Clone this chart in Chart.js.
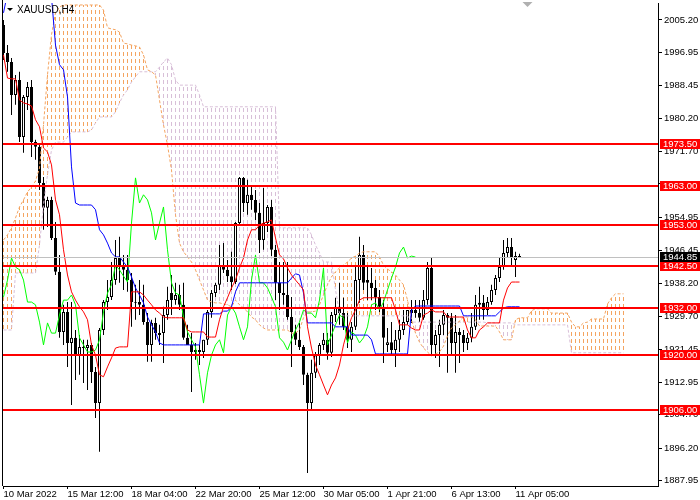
<!DOCTYPE html>
<html>
<head>
<meta charset="utf-8">
<script src="https://cdn.jsdelivr.net/npm/chart.js@4.4.1/dist/chart.umd.min.js"></script>
<style>
  html, body { margin: 0; padding: 0; background: #fff; overflow: hidden; }
  canvas { display: block; }
</style>
</head>
<body>
<canvas id="xauChart" width="700" height="500"></canvas>
<script>
// XAUUSD H4 candles, one value per bar (bar 0 = 10 Mar 2022)
const opens = [
  2003.9, 1996.8, 1994.5, 1986.1, 1989.9, 1975.4, 1985.6, 1988.1, 1974.1, 1972.9,
  1963.7, 1957.4, 1959.4, 1949.7, 1941.1, 1925.8, 1930.9, 1923.0, 1924.3, 1919.9,
  1922.0, 1921.7, 1922.5, 1915.6, 1907.7, 1926.3, 1933.4, 1934.7, 1939.0, 1944.6,
  1942.3, 1941.6, 1939.0, 1933.2, 1933.4, 1932.7, 1928.3, 1922.5, 1928.1, 1925.0,
  1925.5, 1930.1, 1935.7, 1933.9, 1935.2, 1932.7, 1924.3, 1922.5, 1921.2, 1920.7,
  1920.7, 1923.8, 1930.9, 1935.7, 1937.8, 1942.8, 1941.6, 1940.0, 1938.5, 1953.5,
  1965.0, 1958.6, 1960.7, 1959.4, 1956.1, 1949.2, 1953.5, 1957.6, 1946.7, 1938.3,
  1935.7, 1935.2, 1929.6, 1925.8, 1923.8, 1922.0, 1914.9, 1907.7, 1915.4, 1919.9,
  1922.5, 1923.8, 1920.5, 1930.1, 1932.2, 1930.6, 1927.1, 1923.8, 1927.1, 1939.0,
  1945.4, 1939.0, 1938.3, 1937.0, 1934.7, 1932.2, 1922.5, 1923.2, 1921.2, 1923.8,
  1926.3, 1928.3, 1931.4, 1931.4, 1930.6, 1929.4, 1933.9, 1942.1, 1922.5, 1925.0,
  1927.6, 1930.1, 1929.4, 1923.0, 1925.8, 1925.0, 1923.0, 1924.3, 1927.1, 1932.7,
  1933.2, 1931.4, 1933.4, 1936.5, 1939.5, 1942.3, 1945.9, 1947.4, 1944.1, 1945.1
];
const highs = [
  2005.2, 1998.8, 1995.5, 1991.2, 1992.0, 1986.1, 1989.4, 1989.9, 1974.7, 1973.9,
  1965.2, 1960.2, 1960.2, 1953.8, 1945.4, 1932.7, 1933.4, 1933.4, 1926.3, 1925.0,
  1923.8, 1923.8, 1923.0, 1916.9, 1926.8, 1933.9, 1939.0, 1943.6, 1949.2, 1950.0,
  1945.4, 1945.4, 1940.8, 1937.8, 1939.0, 1937.8, 1930.6, 1928.9, 1929.4, 1927.6,
  1932.2, 1937.3, 1940.3, 1938.3, 1937.8, 1938.3, 1927.6, 1925.5, 1923.0, 1922.5,
  1923.8, 1931.4, 1936.5, 1938.3, 1947.9, 1948.4, 1944.1, 1946.2, 1953.8, 1965.2,
  1965.2, 1964.5, 1962.7, 1961.9, 1958.6, 1962.4, 1958.1, 1959.4, 1947.9, 1943.6,
  1943.6, 1943.6, 1934.7, 1927.6, 1928.1, 1922.5, 1915.4, 1918.7, 1920.7, 1923.0,
  1925.5, 1925.5, 1930.9, 1934.5, 1938.3, 1934.5, 1930.6, 1928.3, 1942.8, 1950.0,
  1947.9, 1942.8, 1942.1, 1939.0, 1936.5, 1933.9, 1926.8, 1928.3, 1926.3, 1928.9,
  1931.4, 1931.4, 1933.9, 1933.9, 1933.9, 1936.5, 1943.6, 1944.6, 1926.3, 1928.9,
  1931.4, 1930.6, 1930.6, 1930.1, 1926.8, 1926.3, 1925.5, 1930.6, 1935.2, 1937.3,
  1935.2, 1934.7, 1937.8, 1940.3, 1944.6, 1949.2, 1949.7, 1949.7, 1946.2, 1945.7
];
const lows = [
  1995.0, 1992.0, 1981.0, 1983.6, 1974.1, 1971.4, 1982.3, 1970.3, 1969.6, 1961.9,
  1951.8, 1952.5, 1949.2, 1940.3, 1924.3, 1922.5, 1916.9, 1907.2, 1913.6, 1914.9,
  1912.8, 1911.0, 1912.8, 1903.9, 1895.3, 1925.0, 1931.4, 1933.9, 1937.8, 1938.3,
  1936.5, 1936.0, 1927.1, 1928.9, 1930.1, 1927.6, 1918.2, 1918.2, 1923.8, 1922.5,
  1917.9, 1928.9, 1930.1, 1932.7, 1931.4, 1923.8, 1922.5, 1910.5, 1918.7, 1917.4,
  1919.2, 1922.5, 1929.4, 1934.7, 1936.5, 1940.8, 1938.5, 1936.5, 1938.0, 1952.8,
  1956.3, 1955.6, 1956.9, 1954.3, 1945.9, 1946.7, 1951.2, 1945.1, 1933.9, 1931.4,
  1932.7, 1928.9, 1916.9, 1922.5, 1921.2, 1912.3, 1889.9, 1906.0, 1914.1, 1917.4,
  1921.2, 1918.7, 1919.4, 1928.3, 1927.6, 1926.3, 1921.7, 1920.7, 1926.3, 1933.2,
  1936.5, 1933.9, 1933.9, 1931.4, 1930.9, 1917.9, 1920.7, 1919.9, 1916.9, 1920.7,
  1925.0, 1927.6, 1928.1, 1929.4, 1928.3, 1928.9, 1932.7, 1919.9, 1919.2, 1916.9,
  1925.0, 1915.4, 1919.9, 1915.4, 1917.9, 1920.7, 1921.2, 1923.2, 1926.3, 1928.9,
  1928.9, 1930.1, 1932.7, 1935.2, 1938.5, 1941.6, 1944.6, 1942.8, 1939.8, 1944.6
];
const closes = [
  1996.8, 1994.5, 1986.1, 1989.9, 1975.4, 1985.6, 1988.1, 1974.1, 1972.9, 1963.7,
  1957.4, 1959.4, 1949.7, 1941.1, 1925.8, 1930.9, 1923.0, 1924.3, 1919.9, 1922.0,
  1921.7, 1922.5, 1915.6, 1907.7, 1926.3, 1933.4, 1934.7, 1939.0, 1944.6, 1942.3,
  1941.6, 1939.0, 1933.4, 1933.4, 1932.7, 1928.3, 1922.5, 1928.1, 1925.5, 1925.5,
  1930.1, 1933.9, 1933.9, 1935.2, 1932.7, 1924.3, 1922.5, 1920.7, 1920.7, 1921.2,
  1923.8, 1930.9, 1935.7, 1937.8, 1942.8, 1941.6, 1940.0, 1938.5, 1953.5, 1965.0,
  1958.6, 1960.7, 1959.4, 1956.1, 1949.2, 1953.5, 1957.6, 1946.7, 1938.3, 1935.7,
  1935.2, 1929.6, 1925.8, 1923.8, 1922.0, 1914.9, 1907.7, 1915.4, 1919.9, 1922.5,
  1923.8, 1920.5, 1930.1, 1932.2, 1930.6, 1927.1, 1923.8, 1927.1, 1939.0, 1945.4,
  1938.3, 1938.3, 1937.0, 1934.7, 1932.2, 1924.3, 1923.2, 1921.2, 1923.8, 1926.3,
  1928.3, 1931.4, 1930.6, 1930.6, 1929.4, 1933.9, 1942.1, 1922.5, 1925.0, 1927.6,
  1930.1, 1929.4, 1923.0, 1925.8, 1925.0, 1923.0, 1924.3, 1927.1, 1932.7, 1933.2,
  1931.4, 1933.4, 1936.5, 1939.5, 1942.3, 1945.9, 1947.4, 1944.6, 1945.1, 1944.85
];

// Ichimoku lines
const tenkan = [
  1996.3, 1990.4, 1990.2, 1990.2, 1984.8, 1984.1, 1983.8, 1983.3, 1979.8, 1978.0,
  1972.6, 1971.6, 1968.3, 1959.4, 1955.6, 1946.7, 1940.3, 1936.0, 1933.9, 1932.2,
  1930.9, 1928.9, 1922.5, 1919.9, 1914.9, 1914.4, 1916.9, 1919.2, 1921.7, 1922.0,
  1922.0, 1922.0, 1936.0, 1936.0, 1936.0, 1935.2, 1933.9, 1932.7, 1931.4, 1930.6,
  1929.6, 1929.4, 1929.4, 1929.4, 1929.4, 1929.4, 1926.3, 1925.8, 1925.8, 1925.8,
  1925.8, 1924.5, 1924.5, 1924.5, 1928.9, 1932.2, 1934.5, 1937.0, 1939.0, 1942.1,
  1944.6, 1949.2, 1951.8, 1951.8, 1953.0, 1953.5, 1953.8, 1954.3, 1949.7, 1945.4,
  1944.4, 1942.1, 1940.3, 1939.0, 1937.8, 1936.5, 1927.1, 1921.7, 1917.4, 1914.9,
  1912.3, 1909.8, 1912.3, 1914.1, 1917.4, 1922.5, 1926.3, 1929.4, 1931.4, 1933.9,
  1934.5, 1934.5, 1934.5, 1934.5, 1934.5, 1934.5, 1934.5, 1934.5, 1931.4, 1927.6,
  1927.6, 1927.6, 1926.8, 1926.3, 1926.3, 1930.1, 1930.6, 1931.4, 1930.9, 1930.9,
  1930.9, 1929.6, 1929.6, 1929.6, 1929.6, 1929.6, 1926.3, 1924.3, 1924.3, 1926.3,
  1927.1, 1928.1, 1928.1, 1928.1, 1928.1, 1933.9, 1937.0, 1938.5, 1938.5, 1938.5
];
const kijun = [
  2007.0, 2012.0, 2012.0, 2012.0, 2012.0, 2012.0, 2012.0, 2012.0, 2012.0, 2012.0,
  2012.0, 2012.0, 2011.0, 1998.8, 1993.8, 1992.5, 1985.6, 1967.8, 1958.6, 1958.1,
  1958.1, 1958.1, 1958.1, 1956.9, 1951.8, 1950.5, 1948.4, 1945.9, 1944.9, 1944.9,
  1943.6, 1942.3, 1939.8, 1937.0, 1935.2, 1933.2, 1929.6, 1927.6, 1925.8, 1923.0,
  1922.5, 1922.5, 1922.5, 1922.5, 1922.5, 1922.5, 1922.5, 1922.5, 1922.5, 1922.5,
  1930.4, 1930.4, 1930.4, 1930.4, 1930.4, 1931.1, 1931.1, 1932.2, 1936.0, 1938.3,
  1938.3, 1938.3, 1938.3, 1938.3, 1938.3, 1938.3, 1938.3, 1938.3, 1938.3, 1938.3,
  1938.3, 1938.3, 1939.5, 1940.6, 1940.3, 1935.7, 1928.1, 1928.1, 1928.1, 1928.1,
  1928.1, 1928.1, 1928.1, 1927.1, 1927.1, 1927.1, 1927.1, 1925.0, 1925.0, 1925.0,
  1925.0, 1925.0, 1923.8, 1920.2, 1920.2, 1920.2, 1920.2, 1920.2, 1920.2, 1920.2,
  1920.2, 1920.2, 1931.4, 1932.4, 1932.4, 1932.4, 1932.4, 1932.4, 1932.4, 1932.4,
  1932.4, 1932.4, 1932.4, 1932.4, 1932.4, 1929.9, 1929.9, 1929.9, 1929.9, 1929.9,
  1929.9, 1929.9, 1929.9, 1929.9, 1930.9, 1931.9, 1932.2, 1932.2, 1932.2, 1932.2
];
// Senkou spans run 26 bars past the last candle
const spanA = [
  1949.2, 1950.5, 1952.3, 1954.8, 1957.6, 1959.4, 1961.4, 1962.7, 1964.2, 1967.5,
  1978.5, 1991.2, 2001.4, 2007.0, 2008.5, 2009.0, 2009.0, 2009.0, 2009.0, 2009.0,
  2009.0, 2009.0, 2009.0, 2009.0, 2009.0, 2007.7, 2003.2, 2002.9, 2002.7, 2002.1,
  1999.3, 1999.1, 1998.8, 1998.6, 1998.3, 1996.3, 1992.5, 1992.0, 1991.2, 1984.8,
  1978.5, 1973.4, 1967.0, 1955.6, 1948.4, 1946.2, 1944.9, 1943.6, 1941.6, 1939.0,
  1936.5, 1933.9, 1933.4, 1933.2, 1933.2, 1932.9, 1932.7, 1932.2, 1933.9, 1932.7,
  1931.9, 1930.9, 1929.6, 1928.9, 1927.6, 1926.8, 1926.3, 1926.3, 1926.3, 1926.3,
  1926.3, 1926.3, 1925.5, 1925.5, 1926.3, 1929.4, 1930.9, 1930.9, 1931.1, 1932.7,
  1935.2, 1937.8, 1939.8, 1941.1, 1942.1, 1942.8, 1943.6, 1944.6, 1945.1, 1945.9,
  1946.2, 1946.2, 1946.2, 1946.2, 1944.9, 1942.8, 1941.8, 1941.1, 1940.3, 1939.0,
  1937.8, 1933.9, 1928.9, 1925.5, 1923.2, 1921.7, 1920.7, 1919.7, 1920.2, 1920.7,
  1922.2, 1924.8, 1926.8, 1927.6, 1928.6, 1929.6, 1929.6, 1929.6, 1928.9, 1927.3,
  1927.3, 1927.3, 1927.3, 1927.3, 1925.8, 1923.8, 1923.8, 1923.8, 1928.9, 1929.4,
  1929.4, 1929.4, 1931.2, 1931.7, 1931.7, 1931.7, 1931.7, 1930.6, 1930.6, 1930.6,
  1930.6, 1930.6, 1928.3, 1927.1, 1927.1, 1928.1, 1928.3, 1929.1, 1929.1, 1929.1,
  1929.1, 1932.9, 1934.5, 1935.5, 1935.5, 1935.5
];
const spanB = [
  1926.3, 1926.3, 1926.3, 1940.8, 1940.8, 1940.8, 1940.8, 1940.8, 1940.8, 1947.9,
  1958.1, 1965.8, 1972.1, 1974.1, 1974.1, 1974.1, 1975.4, 1976.7, 1976.7, 1976.7,
  1976.7, 1976.7, 1977.2, 1979.0, 1980.5, 1980.5, 1980.5, 1980.5, 1981.8, 1984.1,
  1986.1, 1987.4, 1989.4, 1990.7, 1992.0, 1992.0, 1992.0, 1992.0, 1992.0, 1993.2,
  1994.5, 1995.5, 1993.8, 1989.9, 1988.6, 1988.6, 1988.6, 1988.6, 1988.6, 1986.1,
  1983.1, 1983.1, 1983.1, 1983.1, 1983.1, 1983.1, 1983.1, 1983.1, 1983.1, 1983.1,
  1983.1, 1983.1, 1983.1, 1983.1, 1983.1, 1983.1, 1983.1, 1983.1, 1983.1, 1952.3,
  1952.3, 1952.3, 1952.3, 1952.3, 1952.3, 1952.3, 1952.3, 1950.5, 1947.9, 1945.9,
  1943.6, 1943.6, 1943.6, 1936.5, 1930.6, 1929.9, 1929.9, 1929.9, 1929.9, 1929.9,
  1929.9, 1929.9, 1929.9, 1929.9, 1929.9, 1929.9, 1929.9, 1929.9, 1929.9, 1929.9,
  1929.9, 1929.9, 1928.3, 1928.3, 1928.3, 1928.3, 1928.3, 1928.3, 1928.3, 1928.3,
  1928.3, 1928.3, 1928.3, 1928.3, 1928.3, 1928.3, 1928.3, 1928.3, 1928.3, 1928.3,
  1928.3, 1928.1, 1928.1, 1928.1, 1928.1, 1928.1, 1928.1, 1928.1, 1927.6, 1927.6,
  1927.6, 1927.6, 1927.6, 1927.6, 1927.6, 1927.6, 1927.6, 1927.6, 1927.6, 1927.6,
  1927.6, 1927.6, 1920.5, 1920.5, 1920.5, 1920.5, 1920.5, 1920.5, 1920.5, 1920.5,
  1920.5, 1920.5, 1920.5, 1920.5, 1920.5, 1920.5
];

// Horizontal levels and last price
const levels = [1973.5, 1963.0, 1953.0, 1942.5, 1932.0, 1920.0, 1906.0];
const lastPrice = 1944.85;

// Axis ticks
const priceTicks = [2005.20, 1996.95, 1988.45, 1980.20, 1971.70, 1963.45, 1954.95,
  1946.45, 1938.20, 1929.70, 1921.45, 1912.95, 1904.70, 1896.20, 1887.95];
const dateTicks = [0, 16, 32, 48, 64, 80, 96, 112, 128];
const dateLabels = ['10 Mar 2022', '15 Mar 12:00', '18 Mar 04:00', '22 Mar 20:00',
  '25 Mar 12:00', '30 Mar 05:00', '1 Apr 21:00', '6 Apr 13:00', '11 Apr 05:00'];

const chikouShift = 26;
const FONT = "'Liberation Sans', Arial, sans-serif";

Chart.defaults.font.family = FONT;
Chart.defaults.font.size = 9.5;
Chart.defaults.color = '#000';

// Build datasets from the arrays
const wickData = closes.map((c, i) => ({ x: i, y: [lows[i], highs[i]] }));
const bodyData = closes.map((c, i) => ({ x: i, y: [opens[i], c] }));
const bodyFill = closes.map((c, i) => (c >= opens[i] ? '#ffffff' : '#000000'));
const toPoints = arr => arr.map((v, i) => ({ x: i, y: v }));
const chikouData = closes.slice(chikouShift).map((v, i) => ({ x: i, y: v }));

// Kumo hatch, level lines and axis labels
const mtOverlay = {
  id: 'mtOverlay',
  beforeDatasetsDraw(chart) {
    const { ctx, chartArea: a, scales: { x, y } } = chart;
    ctx.save();
    ctx.beginPath();
    ctx.rect(a.left, a.top, a.right - a.left, a.bottom - a.top);
    ctx.clip();
    ctx.lineWidth = 1;
    ctx.setLineDash([4, 3]);
    spanA.forEach((va, i) => {
      const vb = spanB[i];
      const px = Math.floor(x.getPixelForValue(i)) + 0.5;
      const y0 = Math.round(y.getPixelForValue(Math.max(va, vb)));
      const y1 = Math.round(y.getPixelForValue(Math.min(va, vb)));
      ctx.strokeStyle = va >= vb ? '#F4A460' : '#D8BFD8';
      // keep the dashes of all columns on the same rows
      ctx.lineDashOffset = (y0 - a.top) % 7;
      ctx.beginPath();
      ctx.moveTo(px, y0);
      ctx.lineTo(px, y1);
      ctx.stroke();
    });
    ctx.restore();
  },
  afterDatasetsDraw(chart) {
    const { ctx, chartArea: a, scales: { y } } = chart;
    ctx.save();
    // last price line
    ctx.strokeStyle = '#C0C0C0';
    ctx.lineWidth = 1;
    const py = Math.round(y.getPixelForValue(lastPrice)) + 0.5;
    ctx.beginPath(); ctx.moveTo(a.left, py); ctx.lineTo(a.right, py); ctx.stroke();
    // support / resistance levels
    ctx.strokeStyle = '#FF0000';
    ctx.lineWidth = 2;
    levels.forEach(l => {
      const ly = Math.round(y.getPixelForValue(l));
      ctx.beginPath(); ctx.moveTo(a.left, ly); ctx.lineTo(a.right, ly); ctx.stroke();
    });
    ctx.restore();
  },
  afterDraw(chart) {
    const { ctx, chartArea: a, scales: { x, y } } = chart;
    ctx.save();
    // left frame line
    ctx.strokeStyle = '#000';
    ctx.lineWidth = 1;
    ctx.beginPath(); ctx.moveTo(a.left - 0.5, 0); ctx.lineTo(a.left - 0.5, a.bottom); ctx.stroke();

    // price boxes on the axis
    ctx.font = '9.5px ' + FONT;
    ctx.textBaseline = 'middle';
    const box = (value, bg) => {
      const by = Math.round(y.getPixelForValue(value));
      ctx.fillStyle = bg;
      ctx.fillRect(a.right + 2, by - 5, 40, 10);
      ctx.fillStyle = '#fff';
      ctx.fillText(value.toFixed(2), a.right + 5, by + 0.5);
    };
    levels.forEach(l => box(l, '#FF0000'));
    box(lastPrice, '#000');

    // symbol caption
    ctx.fillStyle = '#000';
    ctx.beginPath();
    ctx.moveTo(7, 8); ctx.lineTo(13, 8); ctx.lineTo(10, 11); ctx.closePath(); ctx.fill();
    ctx.font = '10px ' + FONT;
    ctx.fillText('XAUUSD,H4', 17, 10);

    // chart shift marker
    const sx = x.getPixelForValue(closes.length + 1);
    ctx.fillStyle = '#B0B0B0';
    ctx.beginPath();
    ctx.moveTo(sx - 5, 2); ctx.lineTo(sx + 5, 2); ctx.lineTo(sx, 7);
    ctx.closePath(); ctx.fill();
    ctx.restore();
  }
};

const xauConfig = {
  type: 'bar',
  data: {
    datasets: [
      { type: 'line', label: 'Tenkan-sen', data: toPoints(tenkan), borderColor: '#FF0000',
        borderWidth: 1, pointRadius: 0, tension: 0, order: 1 },
      { type: 'line', label: 'Kijun-sen', data: toPoints(kijun), borderColor: '#0000FF',
        borderWidth: 1, pointRadius: 0, tension: 0, order: 2 },
      { type: 'line', label: 'Chikou Span', data: chikouData, borderColor: '#00FF00',
        borderWidth: 1, pointRadius: 0, tension: 0, order: 3 },
      { type: 'line', label: 'Senkou Span A', data: toPoints(spanA), borderColor: '#F4A460',
        borderWidth: 1, borderDash: [3, 2], pointRadius: 0, tension: 0, order: 4 },
      { type: 'line', label: 'Senkou Span B', data: toPoints(spanB), borderColor: '#D8BFD8',
        borderWidth: 1, borderDash: [3, 2], pointRadius: 0, tension: 0, order: 4 },
      { type: 'bar', label: 'Bodies', data: bodyData, backgroundColor: bodyFill,
        borderColor: '#000', borderWidth: 1, borderSkipped: false, inflateAmount: 0,
        barThickness: 3, grouped: false, order: 5 },
      { type: 'bar', label: 'Wicks', data: wickData, backgroundColor: '#000',
        borderWidth: 0, inflateAmount: 0, barThickness: 1, grouped: false, order: 6 }
    ]
  },
  options: {
    responsive: false,
    devicePixelRatio: 1,
    animation: false,
    events: [],
    layout: { padding: { left: 3, top: 3, right: 0, bottom: 0 } },
    plugins: {
      legend: { display: false },
      tooltip: { enabled: false }
    },
    scales: {
      x: {
        type: 'linear',
        min: -0.125,
        max: 163.625,
        offset: false,
        afterBuildTicks: s => { s.ticks = dateTicks.map(v => ({ value: v })); },
        afterFit: s => { s.height = 14; s.paddingLeft = 0; s.paddingRight = 0; },
        grid: { offset: false, drawOnChartArea: false, drawTicks: true, tickLength: 3,
          color: '#000', tickColor: '#000' },
        border: { display: true, color: '#000', width: 1 },
        ticks: { autoSkip: false, maxRotation: 0, align: 'start', padding: 0, color: '#000',
          callback: v => dateLabels[dateTicks.indexOf(v)] }
      },
      y: {
        position: 'right',
        min: 1886.6,
        max: 2009.5,
        afterBuildTicks: s => { s.ticks = priceTicks.map(v => ({ value: v })); },
        afterFit: s => { s.width = 42; s.paddingTop = 0; s.paddingBottom = 0; },
        grid: { drawOnChartArea: false, drawTicks: true, tickLength: 4,
          color: '#000', tickColor: '#000' },
        border: { display: true, color: '#000', width: 1 },
        ticks: { autoSkip: false, padding: 2, color: '#000',
          callback: v => Number(v).toFixed(2) }
      }
    }
  },
  plugins: [mtOverlay]
};

const xauChart = new Chart(document.getElementById('xauChart'), xauConfig);
</script>
</body>
</html>
